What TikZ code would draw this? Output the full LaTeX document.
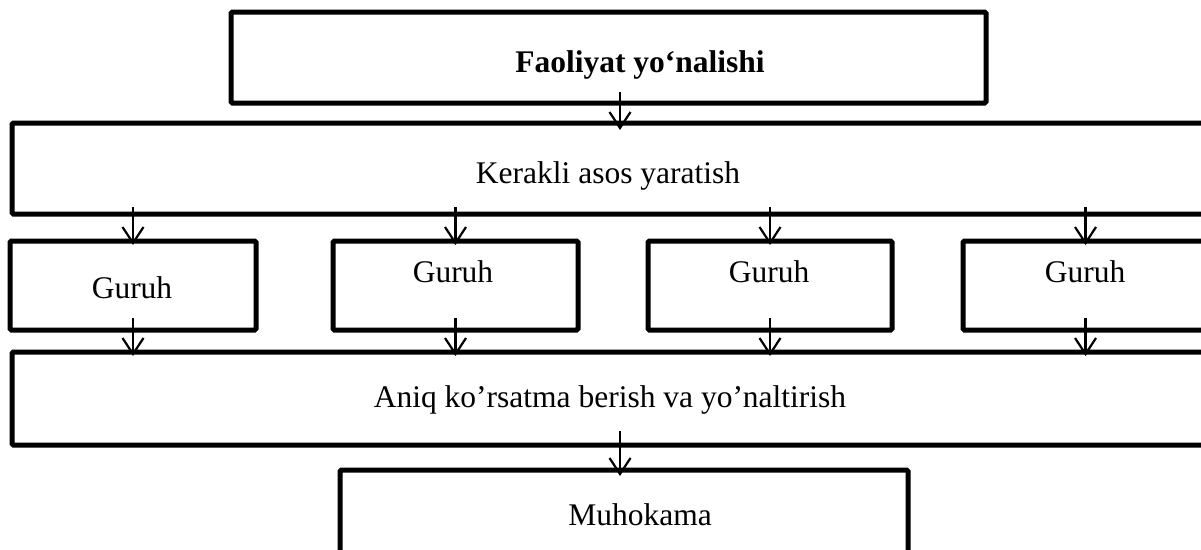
\documentclass[tikz,border=0pt]{standalone}
\usepackage{fontspec}
\setmainfont{Liberation Serif}
\usetikzlibrary{arrows.meta}
\begin{document}
\begin{tikzpicture}[x=1pt,y=-1pt,
  box/.style={draw=black, line width=5pt, rounded corners=1.5pt, rectangle, inner sep=0pt, outer sep=0pt, anchor=north west},
  txt/.style={anchor=base, inner sep=0pt, font=\fontsize{31.5}{36}\selectfont},
  arr/.style={draw=black, line width=2.2pt, -{Straight Barb[length=16pt,width=21pt]}}]
\useasboundingbox (0,0) rectangle (1201,549);
\clip (0,0) rectangle (1201,549);
\coordinate (ax) at (620,0);
% boxes
\node[box, minimum width=755pt, minimum height=91pt] (top) at (231,12) {};
\node[box, minimum width=1218pt, minimum height=91pt] (big1) at (12,123) {};
\node[box, minimum width=246pt, minimum height=89pt] (g1) at (10,241) {};
\node[box, minimum width=245pt, minimum height=89pt] (g2) at (333,241) {};
\node[box, minimum width=244pt, minimum height=89pt] (g3) at (648,241) {};
\node[box, minimum width=245pt, minimum height=89pt] (g4) at (963,241) {};
\node[box, minimum width=1218pt, minimum height=93pt] (big2) at (12,352) {};
\node[box, minimum width=568pt, minimum height=130pt] (muh) at (340,470) {};
% texts
\node[txt, font=\fontsize{31.5}{36}\selectfont\bfseries] (ttop) at (640,72) {Faoliyat yo‘nalishi};
\node[txt] (tbig1) at (608,183) {Kerakli asos yaratish};
\node[txt] (tg1) at (132,298) {Guruh};
\node[txt] (tg2) at (453,282) {Guruh};
\node[txt] (tg3) at (769,282) {Guruh};
\node[txt] (tg4) at (1085,282) {Guruh};
\node[txt] (tbig2) at (610,407) {Aniq ko’rsatma berish va yo’naltirish};
\node[txt] (tmuh) at (640,525) {Muhokama};
% arrows
\draw[arr] ([yshift=11pt]top.south -| ax) -- ([yshift=-7pt]big1.north -| ax);
\foreach \g in {g1,g2,g3,g4}{
  \draw[arr] ([yshift=7pt]big1.south -| \g) -- ([yshift=-4pt]\g.north);
  \draw[arr] ([yshift=12pt]\g.south) -- ([yshift=-4pt]big2.north -| \g);
}
\draw[arr] ([yshift=14pt]big2.south -| ax) -- ([yshift=-6pt]muh.north -| ax);
\end{tikzpicture}
\end{document}
